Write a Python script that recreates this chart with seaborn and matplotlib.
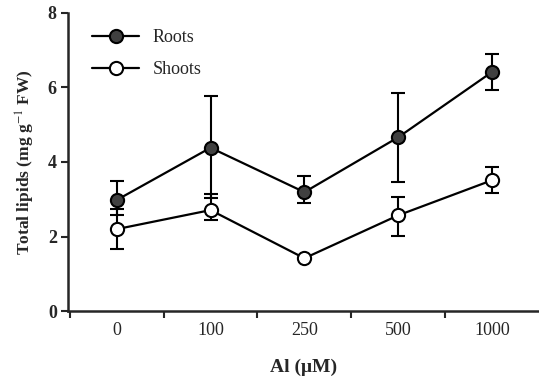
import matplotlib
matplotlib.use("Agg")
import matplotlib.pyplot as plt
import seaborn as sns
import pandas as pd
import numpy as np
from matplotlib.lines import Line2D

categories = ["0", "100", "250", "500", "1000"]
roots = [2.98, 4.38, 3.19, 4.66, 6.41]
roots_lo = [2.57, 3.03, 2.90, 3.46, 5.92]
roots_hi = [3.49, 5.76, 3.62, 5.84, 6.89]
shoots = [2.20, 2.71, 1.42, 2.57, 3.51]
shoots_lo = [1.66, 2.44, 1.42, 2.01, 3.16]
shoots_hi = [2.74, 3.14, 1.42, 3.06, 3.86]
yticks = [0, 2, 4, 6, 8]

sns.set_style("ticks")
plt.rcParams["font.family"] = ["Liberation Serif", "DejaVu Serif"]
plt.rcParams["mathtext.fontset"] = "stix"

pos = np.arange(len(categories))
df = pd.DataFrame({
    "pos": np.concatenate([pos, pos]),
    "val": roots + shoots,
    "series": ["Roots"] * 5 + ["Shoots"] * 5,
})

fig = plt.figure(figsize=(5.39, 3.81), dpi=100)
ax = fig.add_axes([0.126, 0.183, 0.874, 0.784])

# error bars
for vals, lo, hi in [(roots, roots_lo, roots_hi), (shoots, shoots_lo, shoots_hi)]:
    v = np.array(vals)
    ax.errorbar(pos, v, yerr=[v - np.array(lo), np.array(hi) - v], fmt="none",
                ecolor="black", elinewidth=1.5, capsize=5, capthick=1.5, zorder=2)

n_before = len(ax.get_lines())
sns.lineplot(data=df, x="pos", y="val", hue="series", style="series",
             palette={"Roots": "black", "Shoots": "black"},
             markers={"Roots": "o", "Shoots": "o"}, dashes=False,
             linewidth=1.6, markersize=9.5, markeredgewidth=1.5,
             markeredgecolor="black", ax=ax, legend=False, zorder=3)

new_lines = ax.get_lines()[n_before:]
faces = {"Roots": "#404040", "Shoots": "white"}
for ln in new_lines:
    y = list(np.round(ln.get_ydata(), 2))
    if y == list(np.round(roots, 2)):
        ln.set_markerfacecolor(faces["Roots"])
    elif y == list(np.round(shoots, 2)):
        ln.set_markerfacecolor(faces["Shoots"])

h1 = Line2D([], [], color="black", lw=1.6, marker="o", ms=9.5, mfc="#404040", mec="black", mew=1.5)
h2 = Line2D([], [], color="black", lw=1.6, marker="o", ms=9.5, mfc="white", mec="black", mew=1.5)
ax.legend([h1, h2], ["Roots", "Shoots"], loc="upper left", bbox_to_anchor=(0.017, 1.0),
          frameon=False, handlelength=2.6, handletextpad=0.75, labelspacing=0.85,
          prop={"family": "Liberation Serif", "size": 13})

ax.set_xlim(-0.52, 4.5)
ax.set_ylim(0, 8)
ax.set_yticks(yticks)
ax.set_yticklabels([str(t) for t in yticks], fontweight="bold")
ax.set_xticks(pos, minor=True)
ax.set_xticklabels(categories, minor=True)
ax.set_xticks([-0.5, 0.5, 1.5, 2.5, 3.5])
ax.set_xticklabels([])
ax.tick_params(axis="x", which="minor", length=0, pad=8, labelsize=13)
ax.tick_params(axis="x", which="major", length=5, width=1.5, direction="out")
ax.tick_params(axis="y", length=5, width=1.5, direction="out", pad=3, labelsize=13)
for s in ["top", "right"]:
    ax.spines[s].set_visible(False)
for s in ["left", "bottom"]:
    ax.spines[s].set_linewidth(1.8)

ax.set_xlabel("Al (μM)", fontsize=14, fontweight="bold", labelpad=14)
ax.set_ylabel("Total lipids (mg g$^{-1}$ FW)", fontsize=12.5, fontweight="bold", labelpad=8)

fig.savefig("out.png", dpi=100)
